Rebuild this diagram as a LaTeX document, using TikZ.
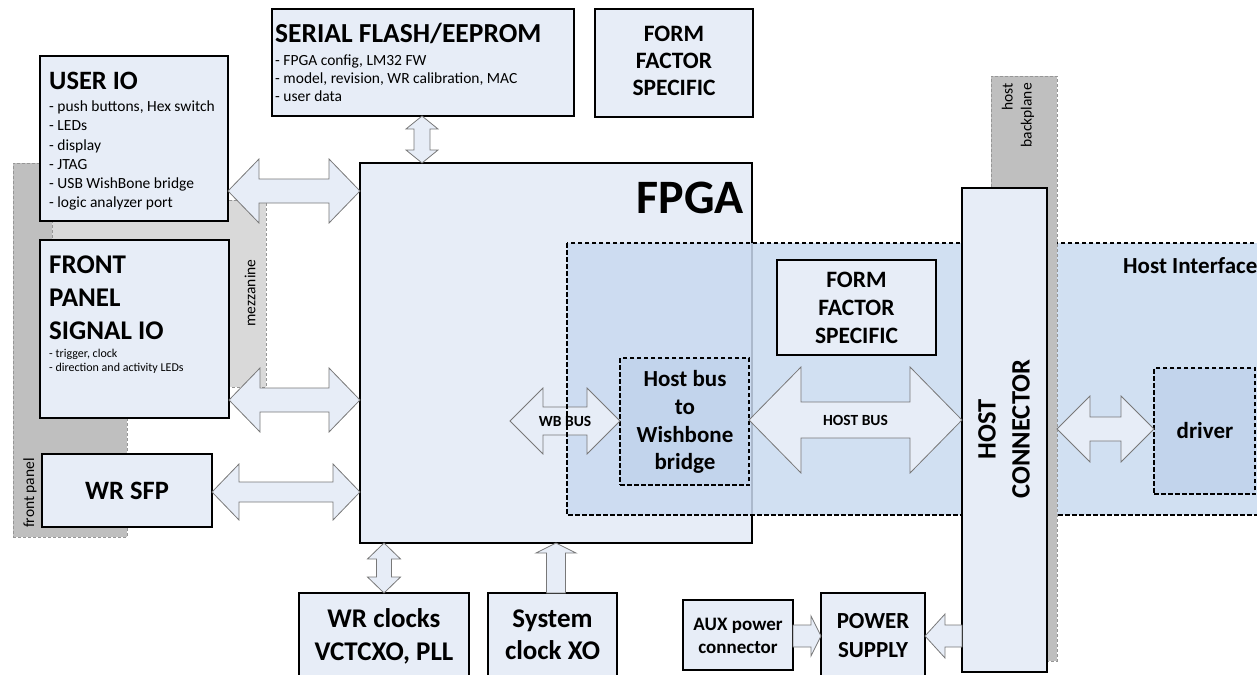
\documentclass[tikz,border=0pt]{standalone}
\usepackage{fontspec}
\setmainfont{Carlito}
\usetikzlibrary{calc}

\definecolor{boxfill}{RGB}{231,237,247}
\definecolor{hostblue}{RGB}{201,218,240}
\definecolor{innerblue}{RGB}{194,212,236}
\definecolor{panelgray}{RGB}{191,191,191}
\definecolor{mezzgray}{RGB}{217,217,217}
\definecolor{zoneedge}{RGB}{150,150,150}
\definecolor{arrowedge}{RGB}{120,120,120}

\newcommand\fsz[1]{\fontsize{#1}{#1}\selectfont}

% double-headed block arrow: #1,#2 end points, #3 head half-width, #4 shaft half-width, #5 head length
\newcommand\dblarrow[5]{%
  \path (#1) coordinate (da) (#2) coordinate (db);
  \path ($(da)!#5!(db)$) coordinate (dah) ($(db)!#5!(da)$) coordinate (dbh);
  \draw[blockarrow] (da) -- ($(dah)!#3!90:(db)$) -- ($(dah)!#4!90:(db)$)
    -- ($(dbh)!#4!-90:(da)$) -- ($(dbh)!#3!-90:(da)$) -- (db)
    -- ($(dbh)!#3!90:(da)$) -- ($(dbh)!#4!90:(da)$)
    -- ($(dah)!#4!-90:(db)$) -- ($(dah)!#3!-90:(db)$) -- cycle;}

% single-headed block arrow from #1 (tail) to #2 (tip)
\newcommand\sglarrow[5]{%
  \path (#1) coordinate (sa) (#2) coordinate (sb);
  \path ($(sb)!#5!(sa)$) coordinate (sbh);
  \draw[blockarrow] ($(sa)!#4!90:(sb)$) -- ($(sbh)!#4!-90:(sa)$) -- ($(sbh)!#3!-90:(sa)$) -- (sb)
    -- ($(sbh)!#3!90:(sa)$) -- ($(sbh)!#4!90:(sa)$) -- ($(sa)!#4!-90:(sb)$) -- cycle;}

\begin{document}
\begin{tikzpicture}[x=1pt,y=-1pt,
  blk/.style={draw=black, line width=2.6pt, fill=boxfill, inner sep=0pt, outer sep=0pt, anchor=north west},
  dashblk/.style={draw=black, line width=2.5pt, dash pattern=on 4.5pt off 2.5pt, fill=innerblue, inner sep=0pt, outer sep=0pt, anchor=north west},
  zone/.style={draw=zoneedge, line width=0.7pt, dash pattern=on 3pt off 2pt, inner sep=0pt, outer sep=0pt, anchor=north west},
  blockarrow/.style={draw=arrowedge, line width=0.8pt, fill=boxfill, line join=miter},
  tl/.style={inner sep=0pt, anchor=base west},
  tc/.style={inner sep=0pt, anchor=base},
  rot/.style={inner sep=0pt, rotate=90},
]
\useasboundingbox (0,0) rectangle (1257,674);
\clip (0,0) rectangle (1257,674);

% front panel and mezzanine zones
\node[zone, fill=panelgray, minimum width=114pt, minimum height=374pt] (frontpanel) at (13,163) {};
\node[zone, fill=mezzgray, minimum width=214pt, minimum height=187pt] (mezz) at (52,200) {};
\node[rot, font=\fsz{15.5}] (fp-label) at (30,493) {front panel};
\node[rot, font=\fsz{15.5}] (mezz-label) at (250,293) {mezzanine};

% user IO
\node[blk, minimum width=188pt, minimum height=165pt] (userio) at (40,56) {};
\node[tl, font=\bfseries\fsz{26.5}] (userio-t) at (49,90) {USER IO};
\foreach \t [count=\i from 0] in {{- push buttons, Hex switch},{- LEDs},{- display},{- JTAG},{- USB WishBone bridge},{- logic analyzer port}}
  \node[tl, font=\fsz{15.5}] (userio-\i) at (49,112+19*\i) {\t};

% front panel signal IO
\node[blk, minimum width=189pt, minimum height=178pt] (frontio) at (40,240) {};
\node[tl, font=\bfseries\fsz{27}] (frontio-a) at (49,273) {FRONT};
\node[tl, font=\bfseries\fsz{27}] (frontio-b) at (49,306) {PANEL};
\node[tl, font=\bfseries\fsz{27}] (frontio-c) at (49,339) {SIGNAL IO};
\node[tl, font=\fsz{12}] (frontio-d) at (49,357) {- trigger, clock};
\node[tl, font=\fsz{12}] (frontio-e) at (49,371) {- direction and activity LEDs};

% WR SFP
\node[blk, minimum width=170pt, minimum height=73pt] (wrsfp) at (42,454) {};
\node[tc, font=\bfseries\fsz{26.5}] (wrsfp-t) at (127,499) {WR SFP};

% serial flash
\node[blk, minimum width=302pt, minimum height=107pt] (flash) at (272,9) {};
\node[tl, font=\bfseries\fsz{27.5}] (flash-t) at (275,43) {SERIAL FLASH/EEPROM};
\node[tl, font=\fsz{15.5}] (flash-a) at (275,66) {- FPGA config, LM32 FW};
\node[tl, font=\fsz{15.5}] (flash-b) at (275,84) {- model, revision, WR calibration, MAC};
\node[tl, font=\fsz{15.5}] (flash-c) at (275,102) {- user data};

% form factor specific (top)
\node[blk, minimum width=158pt, minimum height=108pt] (ffsa) at (595,9) {};
\node[tc, font=\bfseries\fsz{23.5}] (ffsa-a) at (674,42) {FORM};
\node[tc, font=\bfseries\fsz{23.5}] (ffsa-b) at (674,69) {FACTOR};
\node[tc, font=\bfseries\fsz{23.5}] (ffsa-c) at (674,96) {SPECIFIC};

% FPGA
\node[blk, minimum width=392pt, minimum height=380pt] (fpga) at (360,163) {};
\node[inner sep=0pt, anchor=base east, font=\bfseries\fsz{48}] (fpga-t) at (744,213) {FPGA};

% arrows into the FPGA
\dblarrow{userio.east |- 0,191}{fpga.west |- 0,191}{32pt}{12pt}{31pt}
\dblarrow{frontio.east |- 0,400}{fpga.west |- 0,400}{32pt}{12pt}{31pt}
\dblarrow{wrsfp.east |- 0,492}{fpga.west |- 0,492}{28pt}{10pt}{27pt}
\dblarrow{flash.south -| 422,0}{fpga.north -| 422,0}{16pt}{8pt}{13pt}

% host interface zone
\node[inner sep=0pt, outer sep=0pt, anchor=north west, minimum width=740pt, minimum height=272pt,
      fill=hostblue, fill opacity=0.85] (hostif) at (567,243) {};
\coordinate (wbend) at (510,421);
\node[dashblk, minimum width=129pt, minimum height=127pt] (bridge) at (620,358) {};
\dblarrow{wbend}{bridge.west |- 0,421}{33pt}{14pt}{33pt}
\draw[line width=2.5pt, dash pattern=on 4.5pt off 2.5pt] (hostif.north west) rectangle (hostif.south east);
\node[tc, font=\bfseries\fsz{15.5}] (wb-label) at ($(wbend)!0.5!(bridge.west |- 0,421)+(0,5)$) {WB BUS};

% host backplane
\node[zone, fill=panelgray, minimum width=66pt, minimum height=585pt] (backplane) at (991,76) {};
\node[rot, anchor=east, align=right, font=\fsz{15.5}, execute at begin node=\setlength{\baselineskip}{19pt}] (bp-label) at (1018,83) {host\\backplane};

% host connector
\node[blk, minimum width=85pt, minimum height=484pt] (hostconn) at (962,188) {};
\node[rot, align=center, font=\bfseries\fsz{26.5}, execute at begin node=\setlength{\baselineskip}{34pt}] (hostconn-t) at (1004,429) {HOST\\CONNECTOR};

% blocks inside the host interface
\node[blk, minimum width=159pt, minimum height=95pt] (ffsb) at (777,260) {};
\node[tc, font=\bfseries\fsz{23.5}] (ffsb-a) at (856.5,287) {FORM};
\node[tc, font=\bfseries\fsz{23.5}] (ffsb-b) at (856.5,315) {FACTOR};
\node[tc, font=\bfseries\fsz{23.5}] (ffsb-c) at (856.5,343) {SPECIFIC};

\node[tc, font=\bfseries\fsz{23}] (bridge-a) at (685,386) {Host bus};
\node[tc, font=\bfseries\fsz{23}] (bridge-b) at (685,414) {to};
\node[tc, font=\bfseries\fsz{23}] (bridge-c) at (685,442) {Wishbone};
\node[tc, font=\bfseries\fsz{23}] (bridge-d) at (685,469) {bridge};

\node[dashblk, minimum width=101pt, minimum height=126pt] (driver) at (1154,368) {};
\node[tc, font=\bfseries\fsz{23}] (driver-t) at (1205,438) {driver};

\dblarrow{bridge.east |- 0,420}{hostconn.west |- 0,420}{53pt}{18pt}{52pt}
\node[tc, font=\bfseries\fsz{15.5}] (hb-label) at ($(bridge.east |- 0,420)!0.5!(hostconn.west |- 0,420)+(0,5)$) {HOST BUS};
\dblarrow{backplane.east |- 0,429}{driver.west |- 0,429}{33pt}{12pt}{33pt}

\node[tl, font=\bfseries\fsz{23}] (hostif-t) at (1123,273) {Host Interface};

% clocks
\node[blk, minimum width=170pt, minimum height=100pt] (wrclk) at (299,593) {};
\node[tc, font=\bfseries\fsz{27}] (wrclk-a) at (384,627) {WR clocks};
\node[tc, font=\bfseries\fsz{27}] (wrclk-b) at (384,660) {VCTCXO, PLL};
\node[blk, minimum width=129pt, minimum height=100pt] (sysclk) at (488,593) {};
\node[tc, font=\bfseries\fsz{27}] (sysclk-a) at (552.5,627) {System};
\node[tc, font=\bfseries\fsz{27}] (sysclk-b) at (552.5,659) {clock XO};
\dblarrow{fpga.south -| 384,0}{wrclk.north -| 384,0}{16.5pt}{7.5pt}{16pt}
\sglarrow{sysclk.north -| 556,0}{fpga.south -| 556,0}{20pt}{9.5pt}{10pt}

% power
\node[blk, minimum width=110pt, minimum height=70pt] (aux) at (683,600) {};
\node[tc, font=\bfseries\fsz{19}] (aux-a) at (738,630) {AUX power};
\node[tc, font=\bfseries\fsz{19}] (aux-b) at (738,653) {connector};
\node[blk, minimum width=104pt, minimum height=100pt] (power) at (821,593) {};
\node[tc, font=\bfseries\fsz{23}] (power-a) at (873,628) {POWER};
\node[tc, font=\bfseries\fsz{23}] (power-b) at (873,657) {SUPPLY};
\sglarrow{aux.east |- 0,636}{power.west |- 0,636}{20pt}{11pt}{10pt}
\sglarrow{hostconn.west |- 0,636}{power.east |- 0,636}{22pt}{11pt}{20pt}
\end{tikzpicture}
\end{document}
